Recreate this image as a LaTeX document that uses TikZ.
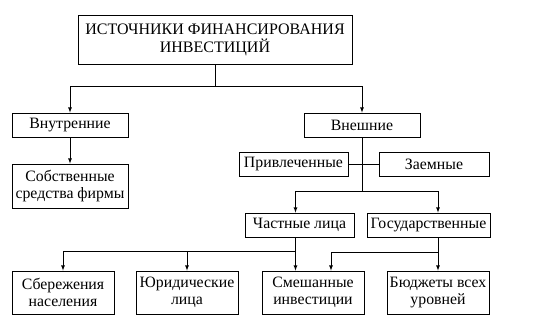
\documentclass[tikz,border=0pt]{standalone}
\usepackage{fontspec}
\setmainfont{Liberation Serif}
\begin{document}
\begin{tikzpicture}[x=1pt,y=-1pt,font=\fontsize{15.8}{16.5}\selectfont,
    box/.style={draw,line width=0.8pt,inner sep=1pt,align=center,minimum height=24pt},
    tall/.style={box,minimum height=43pt},
    link/.style={line width=0.8pt},
    arr/.style={link,-latex}]
    \useasboundingbox (0,0) rectangle (558,330);

    \node[box,minimum width=274pt,minimum height=49pt,font=\fontsize{16}{18}\selectfont] (src) at (215,39.5)
      {ИСТОЧНИКИ ФИНАНСИРОВАНИЯ\\ИНВЕСТИЦИЙ};

    \node[box,minimum width=116pt] (int) at (70,125) {Внутренние};
    \node[box,minimum width=116pt] (ext) at (362,125) {Внешние};
    \node[tall,minimum width=116pt,minimum height=44pt] (own) at (70,186) {Собственные\\средства фирмы};

    \node[box,minimum width=109pt] (attr) at (293.5,164) {Привлеченные};
    \node[box,minimum width=110pt] (loan) at (434,164) {Заемные};

    \node[box,minimum width=109pt] (priv) at (299.5,225) {Частные лица};
    \node[box,minimum width=123pt] (state) at (428.5,225) {Государственные};

    \node[tall,minimum width=102pt] (sav) at (63,292.5) {Сбережения\\населения};
    \node[tall,minimum width=102pt] (legal) at (187,292.5) {Юридические\\лица};
    \node[tall,minimum width=102pt] (mix) at (313,292.5) {Смешанные\\инвестиции};
    \node[tall,minimum width=102pt] (bud) at (438,292.5) {Бюджеты всех\\уровней};

    % top level
    \draw[arr] (src.south) -- ++(0,22) -| (int.north);
    \draw[arr] (src.south) -- ++(0,22) -| (ext.north);
    \draw[arr] (int.south) -- (own.north);

    % external sources
    \draw[link] (ext.south) -- ++(0,54) coordinate (j2);
    \draw[link] (attr.east) -- (loan.west);
    \draw[arr] (j2) -| ([xshift=-4pt]priv.north);
    \draw[arr] (j2) -| (state.north -| bud.north);

    % private persons
    \draw[link] ([xshift=-4pt]priv.south) -- ++(0,14) coordinate (j3);
    \foreach \n in {sav,legal}
      \draw[arr] (j3) -| (\n.north);
    \draw[arr] (j3) -- (j3 |- mix.north);

    % state
    \draw[link] (state.south -| bud.north) -- ++(0,15) coordinate (j4);
    \draw[arr] (j4) -- (bud.north);
    \draw[arr] (j4) -| ([xshift=18pt]mix.north);
\end{tikzpicture}
\end{document}
